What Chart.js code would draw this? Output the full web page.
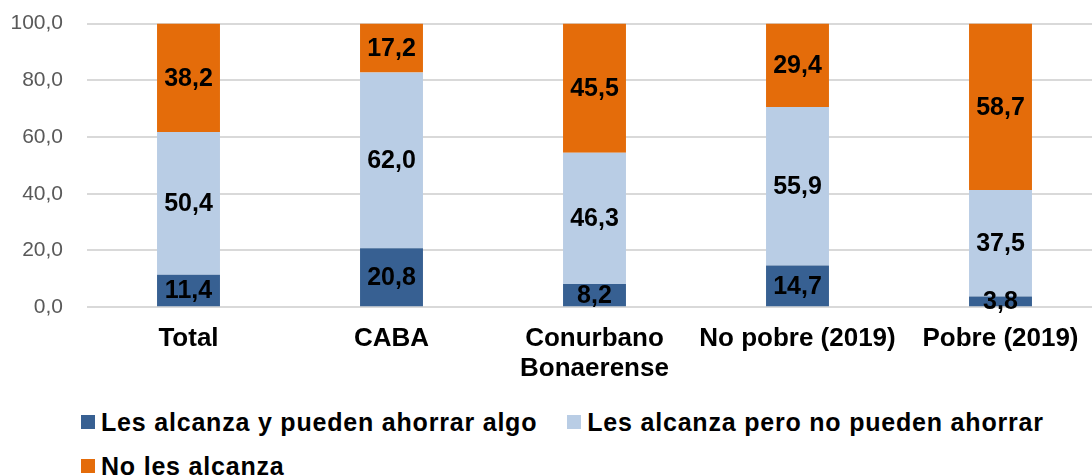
<!DOCTYPE html>
<html>
<head>
<meta charset="utf-8">
<script src="https://cdn.jsdelivr.net/npm/chart.js@4"></script>
<style>
  html, body { margin: 0; padding: 0; background: #fff; overflow: hidden; }
  #wrap { position: relative; width: 1092px; height: 475px; overflow: hidden; }
  #box { position: absolute; left: 0; top: -13px; width: 1102px; height: 406px; }
  #legend { position: absolute; left: 81px; top: 400px; width: 1005px;
    font: bold 25px "Liberation Sans", Arial, sans-serif; letter-spacing: 0.8px; color: #000; }
  #legend .item { display: inline-flex; align-items: center; margin-right: 30px; height: 44px; white-space: nowrap; }
  #legend .sw { width: 14px; height: 14px; margin-right: 6px; flex: none; }
</style>
</head>
<body>
<div id="wrap">
  <div id="box"><canvas id="myChart"></canvas></div>
  <div id="legend"></div>
</div>
<script>
const categories = ['Total', 'CABA', ['Conurbano', 'Bonaerense'], 'No pobre (2019)', 'Pobre (2019)'];
const seriesNames = ['Les alcanza y pueden ahorrar algo', 'Les alcanza pero no pueden ahorrar', 'No les alcanza'];
const ahorran = [11.4, 20.8, 8.2, 14.7, 3.8];
const noAhorran = [50.4, 62.0, 46.3, 55.9, 37.5];
const noAlcanza = [38.2, 17.2, 45.5, 29.4, 58.7];
const colors = ['#376092', '#b9cde5', '#e46c0a'];
const yTicks = [0, 20, 40, 60, 80, 100];

const fmt = v => v.toFixed(1).replace('.', ',');

// draw value labels centered on each segment
const segmentLabels = {
    id: 'segmentLabels',
    afterDatasetsDraw(chart) {
        const ctx = chart.ctx;
        ctx.save();
        ctx.font = 'bold 25px "Liberation Sans", Arial, sans-serif';
        ctx.fillStyle = '#000';
        ctx.textAlign = 'center';
        ctx.textBaseline = 'middle';
        chart.data.datasets.forEach((ds, i) => {
            chart.getDatasetMeta(i).data.forEach((bar, j) => {
                const y = (bar.y + bar.base) / 2;
                ctx.fillText(fmt(ds.data[j]), bar.x, y + 1);
            });
        });
        ctx.restore();
    }
};

const series = [ahorran, noAhorran, noAlcanza];

new Chart(document.getElementById('myChart'), {
    type: 'bar',
    data: {
        labels: categories,
        datasets: series.map((d, i) => ({
            label: seriesNames[i],
            data: d,
            backgroundColor: colors[i],
            barPercentage: 0.31,
            categoryPercentage: 1
        }))
    },
    options: {
        responsive: true,
        maintainAspectRatio: false,
        animation: false,
        layout: { padding: 0 },
        plugins: {
            legend: { display: false },
            tooltip: { enabled: false }
        },
        scales: {
            x: {
                stacked: true,
                grid: { display: false },
                border: { display: false },
                ticks: {
                    color: '#000',
                    font: { family: '"Liberation Sans", Arial, sans-serif', size: 26, weight: 'bold', lineHeight: 1.15 },
                    maxRotation: 0,
                    autoSkip: false,
                    padding: 9
                }
            },
            y: {
                stacked: true,
                min: 0,
                max: 100,
                afterBuildTicks: axis => { axis.ticks = yTicks.map(v => ({ value: v })); },
                afterFit: axis => { axis.width = 87; },
                grid: { color: '#d9d9d9', lineWidth: 2, drawTicks: false },
                border: { display: false },
                ticks: {
                    color: '#595959',
                    font: { family: '"Liberation Sans", Arial, sans-serif', size: 21 },
                    padding: 24,
                    callback: v => fmt(v)
                }
            }
        }
    },
    plugins: [segmentLabels]
});

// legend
const legend = document.getElementById('legend');
seriesNames.forEach((name, i) => {
    const item = document.createElement('span');
    item.className = 'item';
    const sw = document.createElement('span');
    sw.className = 'sw';
    sw.style.background = colors[i];
    item.appendChild(sw);
    item.appendChild(document.createTextNode(name));
    legend.appendChild(item);
});
</script>
</body>
</html>
